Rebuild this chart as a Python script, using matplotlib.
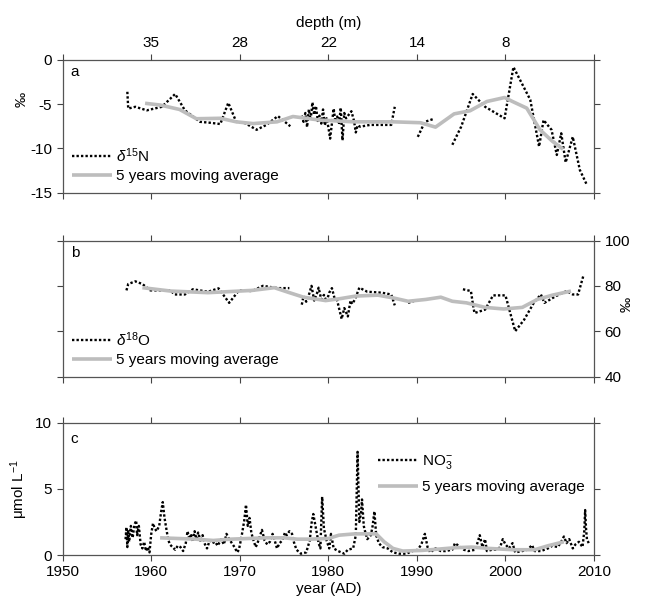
import numpy as np
import matplotlib
matplotlib.use("Agg")
import matplotlib.pyplot as plt

plt.rcParams["font.family"] = ["Liberation Sans", "DejaVu Sans"]
plt.rcParams["font.size"] = 11
plt.rcParams["axes.unicode_minus"] = False
plt.rcParams["mathtext.fontset"] = "custom"
plt.rcParams["mathtext.rm"] = "Liberation Sans"
plt.rcParams["mathtext.it"] = "Liberation Sans:italic"
plt.rcParams["mathtext.bf"] = "Liberation Sans:bold"

nan = np.nan

# --- panel a: d15N (permil) ---
n15_year = [1957.3, 1957.4, 1958.2, 1959.5, 1961.2, 1962.7, 1963.8, 1965.5, 1966.6,
            1967.8, 1968.7, 1969.6, 1970.6, 1971.9, 1973.0, 1974.3, 1975.7, 1976.3,
            1977.0, 1977.2, 1977.4, 1977.6, 1977.8, 1978.0, 1978.2, 1978.4, 1978.6,
            1978.8, 1979.0, 1979.2, 1979.4, 1979.6, 1979.8, 1980.0, 1980.2, 1980.4,
            1980.6, 1980.8, 1981.0, 1981.2, 1981.4, 1981.6, 1981.8, 1982.0, 1982.3,
            1982.6, 1982.9, 1983.1, 1983.3, 1983.6, 1984.7, 1987.1, 1987.5, 1988.5,
            1990.1, 1990.9, 1991.8, 1992.5,
            1994.0, 1995.0, 1996.3, 1997.7, 1999.9, 2000.9, 2002.8, 2003.8, 2004.3,
            2005.2, 2005.8, 2006.3, 2006.8, 2007.6, 2008.4, 2009.2]
n15_val = [-3.6, -5.5, -5.3, -5.7, -5.3, -3.85, -5.7, -7.0, -7.1,
           -7.25, -4.85, -7.0, -7.15, -7.9, -7.35, -6.35, -7.5, nan,
           -6.3, -7.0, -6.0, -7.6, -5.6, -6.8, -4.8, -6.2, -5.2,
           -6.9, -6.3, -7.2, -5.6, -7.4, -6.6, -7.6, -8.9, -7.2,
           -5.5, -7.0, -6.4, -7.3, -5.4, -9.1, -6.0, -6.6, -6.2,
           -5.8, -6.9, -8.2, -7.4, -7.55, -7.35, -7.35, -5.3, nan,
           -8.7, -7.0, -6.7, nan,
           -9.6, -7.55, -3.85, -5.3, -6.6, -0.8, -4.5, -9.8, -6.8,
           -7.9, -10.75, -8.3, -11.6, -8.7, -12.45, -14.15]
n15_avg_year = [1959.3, 1961.0, 1963.2, 1965.1, 1967.8, 1969.6, 1971.5, 1974.2, 1976.0,
                1979.0, 1982.8, 1984.7, 1987.3, 1990.4, 1992.1, 1994.2, 1996.0, 1997.9,
                1999.9, 2000.8, 2002.4, 2003.9, 2005.3, 2006.5]
n15_avg_val = [-4.9, -5.1, -5.6, -6.65, -6.6, -7.0, -7.2, -7.0, -6.4,
               -6.8, -7.0, -7.0, -7.0, -7.1, -7.6, -6.1, -5.75, -4.7,
               -4.25, -4.7, -5.45, -7.9, -9.2, -10.1]

# --- panel b: d18O (permil) ---
o18_year = [1957.2, 1957.4, 1958.2, 1959.0, 1959.9, 1960.9, 1962.2, 1962.6, 1963.8,
            1964.7, 1966.4, 1967.6, 1968.8, 1969.9, 1971.4, 1972.6, 1974.3, 1975.6,
            1976.3,
            1977.0, 1977.2, 1977.5, 1977.8, 1978.1, 1978.4, 1978.7, 1978.9, 1979.2,
            1979.5, 1979.8, 1980.1, 1980.4, 1980.7, 1981.0, 1981.5, 1981.8, 1982.2,
            1982.5, 1982.7, 1983.0, 1983.5, 1984.4, 1986.0, 1987.1, 1987.5, 1988.2,
            1989.0, 1989.8, 1992.0,
            1995.2, 1996.1, 1996.3, 1996.5, 1997.7, 1998.6, 2000.0, 2001.1, 2002.1,
            2003.2, 2004.0, 2004.4, 2005.7, 2006.9, 2007.6, 2008.2, 2008.8]
o18_val = [78.0, 80.8, 82.0, 80.8, 78.0, 78.0, 78.0, 76.2, 76.2,
           78.5, 77.4, 78.9, 72.5, 78.0, 77.7, 80.0, 79.0, 79.0,
           nan,
           71.7, 75.5, 73.0, 76.0, 80.0, 73.5, 76.5, 79.2, 74.0,
           76.0, 73.0, 77.0, 79.0, 74.5, 73.5, 65.4, 70.2, 66.5,
           73.5, 72.0, 74.0, 79.2, 77.4, 77.0, 76.2, 71.4, nan,
           72.5, 73.5, nan,
           78.5, 77.7, 72.5, 68.0, 69.5, 75.8, 75.8, 60.0, 65.0,
           72.5, 76.2, 72.5, 75.5, 77.7, 76.2, 76.2, 84.5]
o18_avg_year = [1959.0, 1962.2, 1966.4, 1968.5, 1971.4, 1973.9, 1975.6, 1977.2, 1979.7,
                1981.4, 1983.1, 1985.6, 1987.3, 1989.0, 1991.0, 1992.7, 1994.0, 1995.6,
                1997.7, 1999.8, 2001.9, 2003.6, 2005.3, 2007.4]
o18_avg_val = [79.2, 77.7, 77.0, 77.4, 78.0, 79.2, 77.0, 75.0, 73.5,
               74.4, 75.5, 75.9, 74.7, 73.2, 74.0, 75.0, 73.2, 72.5,
               70.5, 69.8, 70.5, 74.0, 75.9, 77.7]

# --- panel c: NO3- (umol/L) ---
no3_year = [1957.1, 1957.2, 1957.3, 1957.4, 1957.5, 1957.7, 1957.9, 1958.1, 1958.3,
            1958.4, 1958.6, 1958.8, 1959.0, 1959.2, 1959.4, 1959.6, 1959.8, 1960.0,
            1960.2, 1960.4, 1960.6, 1960.9, 1961.1, 1961.3, 1961.5, 1961.7, 1961.9,
            1962.1, 1962.4, 1962.7, 1963.0, 1963.3, 1963.6, 1963.9, 1964.1, 1964.3,
            1964.5, 1964.7, 1964.9, 1965.1, 1965.3, 1965.6, 1965.8, 1966.0, 1966.3,
            1966.6, 1966.9, 1967.2, 1967.5, 1967.9, 1968.2, 1968.5, 1968.8, 1969.1,
            1969.4, 1969.7, 1969.9, 1970.2, 1970.5, 1970.7, 1970.9, 1971.1, 1971.3,
            1971.5, 1971.8, 1972.0, 1972.3, 1972.5, 1972.8, 1973.1, 1973.4, 1973.7,
            1973.9, 1974.2, 1974.5, 1974.8, 1975.1, 1975.3, 1975.6, 1975.9, 1976.1,
            1976.4, 1976.9, 1977.5, 1977.9, 1978.1, 1978.3, 1978.6, 1978.9, 1979.1,
            1979.3, 1979.5, 1979.8, 1980.1, 1980.3, 1980.6, 1981.1, 1981.8, 1982.2,
            1982.8, 1983.1, 1983.3, 1983.5, 1983.7, 1983.8, 1984.0, 1984.1, 1984.4,
            1984.8, 1985.0, 1985.2, 1985.4, 1985.7, 1986.1, 1986.7, 1987.3, 1988.0,
            1988.8, 1989.5, 1990.1, 1990.5, 1990.9, 1991.2, 1991.5, 1992.1, 1992.7,
            1993.2, 1994.0, 1994.3, 1994.7, 1995.3, 1995.8, 1996.6, 1997.1, 1997.4,
            1997.7, 1997.9, 1998.5, 1999.0, 1999.4, 1999.7, 2000.0, 2000.4, 2000.8,
            2001.1, 2001.9, 2002.5, 2003.0, 2003.3, 2004.0, 2004.8, 2005.3, 2005.9,
            2006.3, 2006.6, 2006.9, 2007.2, 2007.6, 2007.9, 2008.3, 2008.7, 2008.9,
            2009.0, 2009.1, 2009.2, 2009.4]
no3_val = [1.2, 2.1, 0.6, 1.9, 1.0, 2.2, 1.3, 2.3, 2.6,
           1.5, 2.2, 0.8, 0.5, 1.0, 0.3, 0.6, 0.2, 1.6,
           2.4, 2.0, 1.8, 2.2, 3.2, 4.0, 2.8, 2.0, 1.2,
           0.8, 0.6, 0.4, 0.7, 0.6, 0.3, 0.9, 1.8, 1.2,
           1.6, 1.0, 1.8, 1.2, 1.7, 1.0, 1.5, 0.9, 0.5,
           1.1, 0.9, 1.0, 0.7, 1.2, 0.8, 1.6, 1.2, 0.9,
           0.6, 0.2, 0.4, 1.4, 2.6, 3.8, 2.2, 2.8, 1.7,
           1.2, 0.6, 0.9, 1.5, 1.9, 1.1, 0.8, 1.0, 1.6,
           1.2, 0.5, 0.9, 1.1, 1.7, 1.5, 1.8, 1.6, 1.0,
           0.4, 0.1, 0.2, 1.1, 2.4, 3.1, 2.0, 0.9, 0.5,
           4.4, 2.0, 1.1, 0.5, 1.6, 0.5, 0.3, 0.1, 0.4,
           0.5, 1.5, 7.8, 2.5, 3.2, 4.2, 2.2, 1.9, 1.2,
           1.5, 2.2, 3.3, 1.5, 0.9, 0.6, 0.5, 0.2, 0.1,
           0.1, 0.3, 0.4, 0.8, 1.6, 0.6, 0.2, 0.5, 0.3,
           0.3, 0.4, 0.9, 0.7, 0.4, 0.3, 0.4, 1.5, 0.6,
           1.2, 0.3, 0.4, 0.4, 0.6, 1.2, 0.8, 0.5, 0.9,
           0.2, 0.3, 0.4, 0.75, 0.3, 0.3, 0.5, 0.7, 0.6,
           1.0, 1.4, 0.9, 1.2, 0.5, 0.8, 1.0, 0.6, 1.8,
           3.4, 2.0, 1.2, 0.9]
no3_avg_year = [1961.0, 1963.0, 1965.0, 1967.0, 1969.0, 1971.0, 1973.0, 1975.0, 1976.5,
                1978.0, 1980.0, 1981.2, 1983.0, 1985.4, 1986.3, 1987.3, 1988.4, 1990.6,
                1992.5, 1994.3, 1996.2, 1998.1, 2000.9, 2003.3, 2004.8, 2006.6]
no3_avg_val = [1.3, 1.25, 1.2, 1.1, 1.2, 1.25, 1.3, 1.3, 1.2,
               1.2, 1.25, 1.5, 1.6, 1.6, 1.0, 0.5, 0.3, 0.35,
               0.45, 0.55, 0.6, 0.5, 0.4, 0.4, 0.7, 1.0]

year_ticks = [1950, 1960, 1970, 1980, 1990, 2000, 2010]
depth_labels = ["", "35", "28", "22", "14", "8", ""]

dot_kw = dict(color="black", linestyle=(0, (1, 0.9)), linewidth=1.7)
avg_kw = dict(color="#bdbdbd", linewidth=2.6, solid_capstyle="butt",
              solid_joinstyle="round")

fig = plt.figure(figsize=(6.47, 6.01), dpi=100)
L, W = 0.0969, 0.8212
ax_a = fig.add_axes([L, 0.6797, W, 0.2205])
ax_b = fig.add_axes([L, 0.3735, W, 0.2263])
ax_c = fig.add_axes([L, 0.0765, W, 0.2201])


def style(ax):
    ax.set_xlim(1950, 2010)
    ax.set_xticks(year_ticks)
    ax.tick_params(direction="out", length=4, width=0.8, color="#444444",
                   top=True, right=True, labelsize=11)
    for s in ax.spines.values():
        s.set_color("#555555")
        s.set_linewidth(0.9)


leg_kw = dict(frameon=False, fontsize=11, handlelength=2.6,
              handletextpad=0.3, borderaxespad=0.2)

# panel a
ax_a.plot(n15_year, n15_val, label=r"$\delta^{15}$N", **dot_kw)
ax_a.plot(n15_avg_year, n15_avg_val, label="5 years moving average", **avg_kw)
style(ax_a)
ax_a.set_ylim(-15, 0)
ax_a.set_yticks([-15, -10, -5, 0])
ax_a.tick_params(labelbottom=False)
ax_a.set_ylabel("‰", fontsize=11)
ax_a.yaxis.set_label_coords(-0.065, 0.70)
ax_a.text(0.015, 0.88, "a", transform=ax_a.transAxes, fontsize=11)
ax_a.legend(loc="lower left", labelspacing=0.3, **leg_kw)
top = ax_a.twiny()
top.set_xlim(1950, 2010)
top.set_xticks(year_ticks)
top.set_xticklabels(depth_labels)
top.tick_params(direction="out", length=4, width=0.8, color="#444444", labelsize=11)
top.set_xlabel("depth (m)", fontsize=11, labelpad=6)
for s in top.spines.values():
    s.set_visible(False)

# panel b
ax_b.plot(o18_year, o18_val, label=r"$\delta^{18}$O", **dot_kw)
ax_b.plot(o18_avg_year, o18_avg_val, label="5 years moving average", **avg_kw)
style(ax_b)
ax_b.set_ylim(40, 100)
ax_b.set_yticks([40, 60, 80, 100])
ax_b.tick_params(labelbottom=False, labelleft=False, labelright=True)
ax_b.yaxis.set_label_position("right")
ax_b.set_ylabel("‰", fontsize=11, rotation=90)
ax_b.yaxis.set_label_coords(1.048, 0.53)
ax_b.text(0.015, 0.88, "b", transform=ax_b.transAxes, fontsize=11)
ax_b.legend(loc="lower left", labelspacing=0.3, **leg_kw)

# panel c
ax_c.plot(no3_year, no3_val, label=r"NO$_3^{-}$", **dot_kw)
ax_c.plot(no3_avg_year, no3_avg_val, label="5 years moving average", **avg_kw)
style(ax_c)
ax_c.set_ylim(0, 10)
ax_c.set_yticks([0, 5, 10])
ax_c.set_ylabel(r"μmol L$^{-1}$", fontsize=11)
ax_c.set_xlabel("year (AD)", fontsize=11, labelpad=2)
ax_c.text(0.015, 0.85, "c", transform=ax_c.transAxes, fontsize=11)
ax_c.legend(loc="upper right", labelspacing=0.6, bbox_to_anchor=(1.0, 0.84),
            **leg_kw)

fig.savefig("out.png", dpi=100)
